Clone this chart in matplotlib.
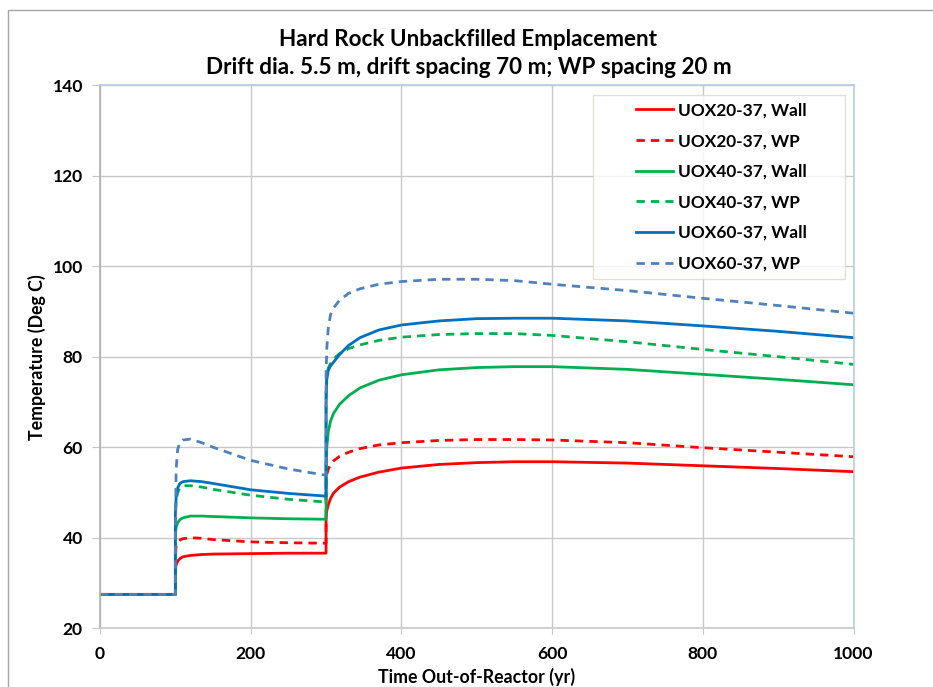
import numpy as np
import matplotlib.pyplot as plt
from matplotlib.patches import Rectangle
from matplotlib.legend_handler import HandlerLine2D
from matplotlib.lines import Line2D

# --- Time axis (yr); repeated times give the vertical steps at emplacement ---
years = [0, 100, 100, 101, 103, 106, 110, 120, 135, 150, 200, 250, 300,
         300, 301, 303, 306, 310, 318, 330, 345, 370, 400, 450, 500, 550,
         600, 700, 800, 900, 1000]

# --- Temperatures (Deg C) ---
uox20_wall = [27.5, 27.5, 33.0, 34.0, 34.8, 35.4, 35.8, 36.1, 36.3, 36.4, 36.5, 36.6, 36.6,
              44.5, 46.0, 47.3, 48.7, 49.9, 51.2, 52.4, 53.4, 54.5, 55.4, 56.2, 56.6, 56.8,
              56.8, 56.5, 55.9, 55.3, 54.6]
uox20_wp = [27.5, 27.5, 36.0, 38.0, 39.0, 39.5, 39.8, 40.0, 39.9, 39.6, 39.1, 38.9, 38.8,
            52.0, 54.0, 55.2, 56.2, 57.0, 58.0, 58.9, 59.7, 60.5, 61.0, 61.5, 61.7, 61.7,
            61.6, 61.0, 59.9, 58.9, 57.9]
uox40_wall = [27.5, 27.5, 41.0, 42.3, 43.3, 44.0, 44.4, 44.8, 44.8, 44.7, 44.4, 44.2, 44.1,
              55.0, 60.0, 63.5, 65.8, 67.5, 69.5, 71.4, 73.1, 74.8, 76.0, 77.1, 77.6, 77.8,
              77.8, 77.2, 76.1, 75.0, 73.8]
uox40_wp = [27.5, 27.5, 45.0, 48.0, 50.0, 51.0, 51.5, 51.5, 51.2, 50.7, 49.4, 48.5, 47.9,
            72.0, 76.0, 77.5, 78.5, 79.5, 80.7, 81.8, 82.6, 83.6, 84.3, 84.9, 85.1, 85.1,
            84.7, 83.3, 81.6, 80.0, 78.3]
uox60_wall = [27.5, 27.5, 45.0, 49.0, 51.0, 52.0, 52.4, 52.6, 52.4, 52.0, 50.6, 49.8, 49.2,
              70.0, 75.0, 77.0, 78.0, 78.8, 80.5, 82.5, 84.2, 85.9, 87.0, 87.9, 88.4, 88.5,
              88.5, 87.9, 86.8, 85.6, 84.2]
uox60_wp = [27.5, 27.5, 40.0, 55.0, 59.5, 61.0, 61.6, 61.8, 61.0, 60.0, 57.1, 55.2, 53.8,
            76.0, 82.0, 86.5, 89.3, 90.8, 92.5, 94.0, 95.0, 96.0, 96.6, 97.1, 97.1, 96.8,
            96.0, 94.6, 92.9, 91.3, 89.6]

series = [
    ("UOX20-37, Wall", uox20_wall, "#ff0000", "-"),
    ("UOX20-37, WP", uox20_wp, "#ff0000", "--"),
    ("UOX40-37, Wall", uox40_wall, "#00b050", "-"),
    ("UOX40-37, WP", uox40_wp, "#00b050", "--"),
    ("UOX60-37, Wall", uox60_wall, "#0070c0", "-"),
    ("UOX60-37, WP", uox60_wp, "#4f81bd", "--"),
]

plt.rcParams["font.family"] = ["Lato", "DejaVu Sans"]
plt.rcParams["font.weight"] = "bold"

fig = plt.figure(figsize=(9.33, 6.87), dpi=100)
ax = fig.add_axes([0.1072, 0.0854, 0.8076, 0.7908])

# outer chart frame (only left and top edges fall inside the canvas)
fig.patches.append(Rectangle((8 / 933, -0.1), 1.2, 1.1 - 10 / 687,
                             transform=fig.transFigure, fill=False,
                             edgecolor="#a6a6a6", linewidth=1.0))

for label, temps, color, style in series:
    line, = ax.plot(years, temps, color=color, linestyle=style, linewidth=2.0, label=label)
    if style == "--":
        line.set_dashes((3, 2.2))

ax.set_xlim(0, 1000)
ax.set_ylim(20, 140)
ax.set_xticks(range(0, 1001, 200))
ax.set_yticks(range(20, 141, 20))
ax.grid(True, color="#c8c8c8", linewidth=1.0)
ax.set_axisbelow(True)
ax.tick_params(axis="y", length=5.8, color="#c8c8c8", labelsize=12.6, pad=6.5)
ax.tick_params(axis="x", length=4.3, color="#c8c8c8", labelsize=12.6, pad=8.5)
for lbl in ax.get_xticklabels() + ax.get_yticklabels():
    lbl.set_fontweight("bold")

ax.spines["left"].set_color("#b0b0b0")
ax.spines["bottom"].set_color("#c8c8c8")
ax.spines["top"].set_color("#b8cce4")
ax.spines["right"].set_color("#b8cce4")
for s in ax.spines.values():
    s.set_linewidth(1.2)

ax.set_xlabel("Time Out-of-Reactor (yr)", fontsize=12.8, fontweight="bold", va="center")
ax.set_ylabel("Temperature (Deg C)", fontsize=12.8, fontweight="bold", va="center")
ax.xaxis.set_label_coords(0.5, -0.089)
ax.yaxis.set_label_coords(-0.0836, 0.5)

fig.text(468 / 933, 1 - 39 / 687, "Hard Rock Unbackfilled Emplacement",
         ha="center", va="center", fontsize=16.2, fontweight="bold")
fig.text(469 / 933, 1 - 68 / 687, "Drift dia. 5.5 m, drift spacing 70 m; WP spacing 20 m",
         ha="center", va="center", fontsize=16.2, fontweight="bold")


# legend sample line sits in the right half of the handle box
def short_handle(legline, orig):
    legline.update_from(orig)
    x = np.asarray(legline.get_xdata(), dtype=float)
    start = x.min() + 0.49 * (x.max() - x.min())
    legline.set_xdata(np.linspace(start, x.max(), len(x)))


leg = ax.legend(loc="upper left", bbox_to_anchor=(0.6543, 0.5, 0.3344, 0.4816),
                mode="expand", borderaxespad=0, fontsize=12.4, frameon=True,
                fancybox=False, handlelength=4.22, labelspacing=0.85, borderpad=0.43,
                handletextpad=0.29,
                handler_map={Line2D: HandlerLine2D(update_func=short_handle)})
leg.get_frame().set_edgecolor("#ddd9c3")
leg.get_frame().set_linewidth(1.0)
for t in leg.get_texts():
    t.set_fontweight("bold")

fig.savefig("out.png", dpi=100)
